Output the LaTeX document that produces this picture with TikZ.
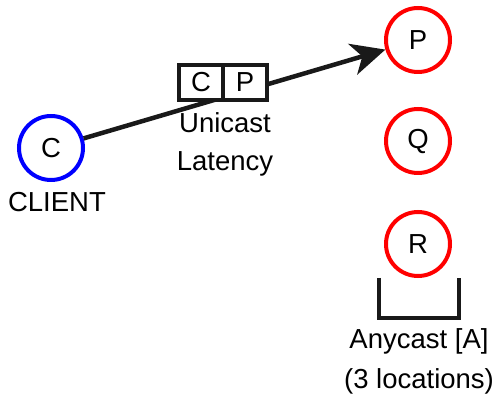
\documentclass[tikz,border=0pt]{standalone}
\usepackage{fontspec}
\setmainfont{Liberation Sans}
\usetikzlibrary{positioning, arrows.meta, calc}

\begin{document}
\begin{tikzpicture}[
    x=1pt, y=-1pt,
    font=\fontsize{27.5}{30}\selectfont,
    client/.style={circle, draw=blue, line width=4pt, minimum size=64pt, inner sep=0pt},
    site/.style={circle, draw=red, line width=4pt, minimum size=64pt, inner sep=0pt},
    cell/.style={draw=black!90, line width=4pt, fill=white, minimum width=44pt, minimum height=35pt, inner sep=0pt},
    line/.style={draw=black!90, line width=4.5pt, -{Stealth[length=34pt, width=32pt, inset=10pt]}}
]
\useasboundingbox (0,0) rectangle (496,395);

% Nodes
\node[client] (client) at (51,148) {C};
\node[below=7pt of client, xshift=6pt] (clientlbl) {CLIENT};
\node[site] (p) at (418,40) {P};
\node[site] (q) at (418,141) {Q};
\node[site] (r) at (418,244) {R};

% Edges
\draw[line] (client) -- (p);

% Packet
\node[cell] (pktc) at (201,82.5) {C};
\node[cell, right=-4pt of pktc] (pktp) {P};
\node[below=7pt of pktc.south east, align=center, font=\fontsize{27.5}{38}\selectfont] (unicast) {Unicast\\Latency};

% Anycast group
\coordinate (brl) at (379,278);
\coordinate (brr) at (459,278);
\draw[draw=black!90, line width=4pt] (brl) |- (419,318) -| (brr);
\node[align=center, font=\fontsize{27.5}{40}\selectfont] (anycast) at (419,361) {Anycast [A]\\(3 locations)};

\end{tikzpicture}
\end{document}
